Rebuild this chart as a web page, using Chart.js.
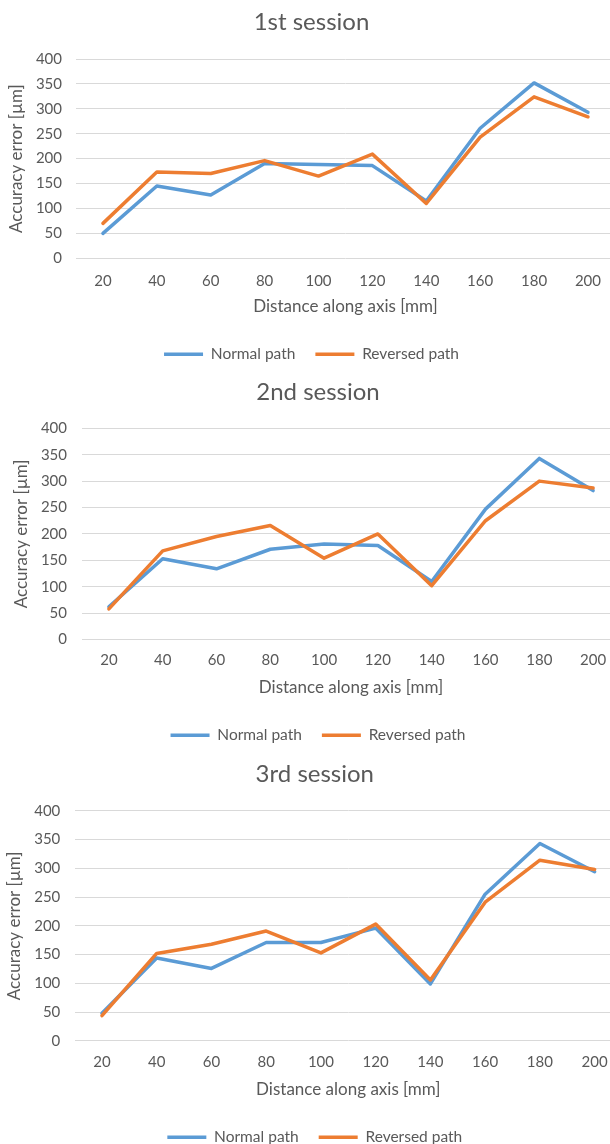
<!DOCTYPE html>
<html>
<head>
<meta charset="utf-8">
<script src="https://cdn.jsdelivr.net/npm/chart.js@4.4.1/dist/chart.umd.min.js"></script>
<style>
  html, body { margin: 0; padding: 0; background: #ffffff; overflow: hidden; width: 610px; height: 1144px; }
  canvas { position: absolute; left: 0; }
</style>
</head>
<body>
<canvas id="c1" style="top:0px"></canvas>
<canvas id="c2" style="top:370px"></canvas>
<canvas id="c3" style="top:750px"></canvas>
<script>
// ---- data ----
const categories = ['20', '40', '60', '80', '100', '120', '140', '160', '180', '200'];
const seriesNames = ['Normal path', 'Reversed path'];
const sessionTitles = ['1st session', '2nd session', '3rd session'];
const normal1   = [50, 145, 127, 190, 188, 186, 115, 261, 352, 293];
const reversed1 = [70, 173, 170, 196, 165, 209, 110, 243, 324, 284];
const normal2   = [62, 153, 134, 171, 181, 178, 110, 247, 343, 282];
const reversed2 = [58, 168, 195, 216, 154, 200, 102, 225, 300, 287];
const normal3   = [48, 144, 126, 171, 171, 196, 99, 255, 343, 294];
const reversed3 = [44, 152, 168, 191, 153, 203, 106, 241, 314, 298];
const yMin = 0, yMax = 400, yStep = 50;
const xTitle = 'Distance along axis [mm]';
const yTitle = 'Accuracy error [µm]';

// ---- styling / layout ----
const BLUE = '#5B9BD5', ORANGE = '#ED7D31', TXT = '#595959', GRID = '#D9D9D9';
const FONT = 'Lato, "Noto Sans", sans-serif';
const LINE_W = 3.5;

const layouts = [
  { id: 'c1', w: 615, h: 372, L: 8,   yw: 68, ytp: 14,   ytitlePad: -2,
    tTop: 8.1, tBot: 22.1, xtp: 14,   xh: 68.25, xtitleBot: 10.05 },
  { id: 'c2', w: 620, h: 383, L: 16,  yw: 66, ytp: 15,   ytitlePad: -4.8,
    tTop: 8.1, tBot: 21.4, xtp: 12,   xh: 67.95, xtitleBot: 10.05 },
  { id: 'c3', w: 622, h: 405, L: 7.6, yw: 67, ytp: 14.3, ytitlePad: -2.8,
    tTop: 10.3, tBot: 21.6, xtp: 12.7, xh: 68.55, xtitleBot: 10.05 }
];
const seriesSets = [[normal1, reversed1], [normal2, reversed2], [normal3, reversed3]];

function makeChart(i) {
  const lo = layouts[i];
  const cv = document.getElementById(lo.id);
  cv.width = lo.w; cv.height = lo.h;
  cv.style.width = lo.w + 'px'; cv.style.height = lo.h + 'px';
  const [nData, rData] = seriesSets[i];
  new Chart(cv, {
    type: 'line',
    data: {
      labels: categories,
      datasets: [
        { label: seriesNames[0], data: nData, borderColor: BLUE, backgroundColor: BLUE,
          borderWidth: LINE_W, pointRadius: 0, tension: 0, order: 1,
          borderJoinStyle: 'round', borderCapStyle: 'round' },
        { label: seriesNames[1], data: rData, borderColor: ORANGE, backgroundColor: ORANGE,
          borderWidth: LINE_W, pointRadius: 0, tension: 0, order: 0,
          borderJoinStyle: 'round', borderCapStyle: 'round' }
      ]
    },
    options: {
      responsive: false,
      animation: false,
      devicePixelRatio: 1,
      layout: { padding: { left: lo.L, right: 0, top: 0, bottom: 0 } },
      plugins: {
        title: {
          display: true, text: sessionTitles[i], color: TXT,
          font: { family: FONT, size: 24, weight: 'normal' },
          padding: { top: lo.tTop, bottom: lo.tBot }
        },
        legend: {
          position: 'bottom',
          labels: {
            color: TXT, font: { family: FONT, size: 15.5 },
            usePointStyle: true, pointStyle: 'line', pointStyleWidth: 39,
            padding: 20,
            sort: (a, b) => a.datasetIndex - b.datasetIndex
          }
        },
        tooltip: { enabled: false }
      },
      scales: {
        x: {
          type: 'category',
          offset: true,
          grid: { display: false, drawTicks: false },
          border: { display: false },
          ticks: { color: TXT, font: { family: FONT, size: 15 }, padding: lo.xtp, maxRotation: 0, autoSkip: false },
          title: { display: true, text: xTitle, color: TXT,
                   font: { family: FONT, size: 17 }, padding: { top: 0, bottom: lo.xtitleBot } },
          afterFit: (s) => { s.height = lo.xh; }
        },
        y: {
          min: yMin, max: yMax,
          grid: { color: GRID, lineWidth: 1, drawTicks: false },
          border: { display: false },
          ticks: { stepSize: yStep, color: TXT, font: { family: FONT, size: 15 }, padding: lo.ytp },
          title: { display: true, text: yTitle, color: TXT,
                   font: { family: FONT, size: 17 }, padding: { top: lo.ytitlePad, bottom: 0 } },
          afterFit: (s) => { s.width = lo.yw; }
        }
      }
    }
  });
}
[0, 1, 2].forEach(makeChart);
</script>
</body>
</html>
